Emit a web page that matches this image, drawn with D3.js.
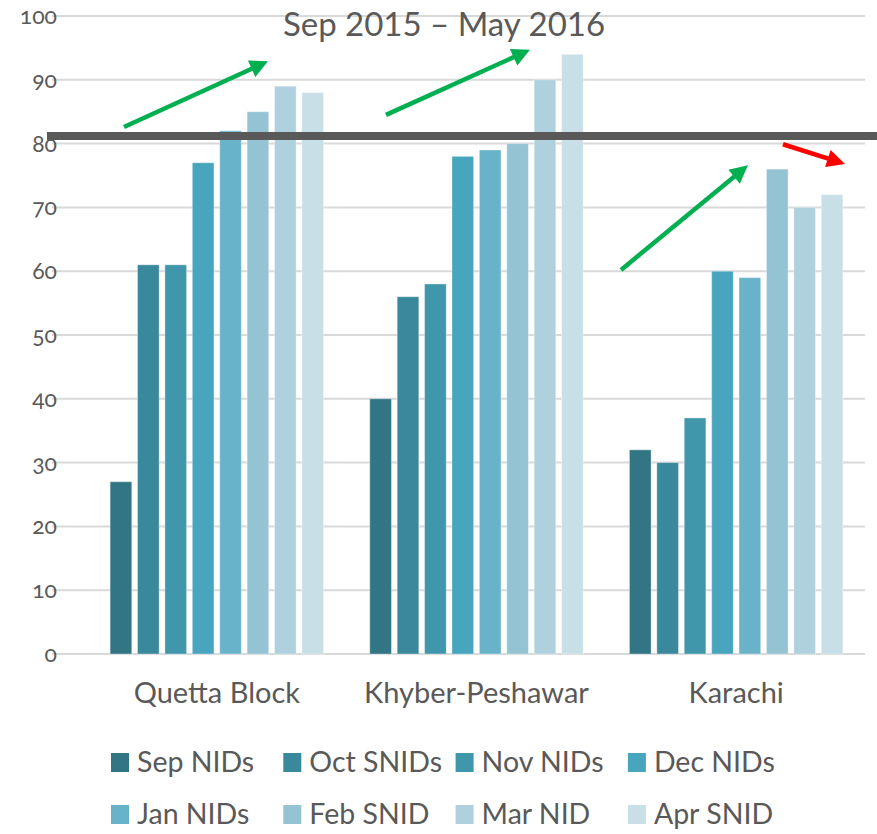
<!DOCTYPE html>
<html>
<head>
<meta charset="utf-8">
<script src="https://cdn.jsdelivr.net/npm/d3@7"></script>
<style>
  body { margin: 0; background: #fff; }
  svg text { font-family: Lato, "Liberation Sans", sans-serif; fill: #595959; }
  .tick-label { font-variant-numeric: oldstyle-nums; }
</style>
</head>
<body>
<svg id="chart" width="877" height="834"></svg>
<script>
var groups = ["Quetta Block", "Khyber-Peshawar", "Karachi"];
var series = ["Sep NIDs", "Oct SNIDs", "Nov NIDs", "Dec NIDs", "Jan NIDs", "Feb SNID", "Mar NID", "Apr SNID"];
var colors = ["#327584", "#3a889b", "#4096ab", "#48a5be", "#69b3ca", "#94c3d4", "#afd1de", "#c9dfe7"];
var quetta = [27, 61, 61, 77, 82, 85, 89, 88];
var khyber = [40, 56, 58, 78, 79, 80, 90, 94];
var karachi = [32, 30, 37, 60, 59, 76, 70, 72];
var yTicks = [0, 10, 20, 30, 40, 50, 60, 70, 80, 90, 100];
var targetLine = 81.2;
var title = "Sep 2015 \u2013 May 2016";
// annotation arrows: [x0, value0, x1, value1, colour]
var arrows = [
  [124, 82.6, 268, 92.9, "#00b050"],
  [386, 84.5, 530, 94.7, "#00b050"],
  [621, 60.2, 748, 76.6, "#00b050"],
  [783, 79.9, 845, 76.8, "#ff0000"]
];

var values = [quetta, khyber, karachi];

var svg = d3.select("#chart");

var y = d3.scaleLinear().domain([0, 100]).range([654, 16]);

var x0 = d3.scaleBand()
    .domain(groups)
    .range([87, 866])
    .paddingInner(0.178)
    .paddingOuter(0.089);

var x1 = d3.scaleBand()
    .domain(series)
    .range([0, x0.bandwidth()])
    .paddingInner(0.21)
    .paddingOuter(0);

// gridlines
svg.append("g")
    .selectAll("line")
    .data(yTicks)
    .enter().append("line")
    .attr("x1", 52)
    .attr("x2", 865)
    .attr("y1", function(d) { return y(d); })
    .attr("y2", function(d) { return y(d); })
    .attr("stroke", "#d9d9d9")
    .attr("stroke-width", 2);

svg.append("g")
    .selectAll("text")
    .data(yTicks)
    .enter().append("text")
    .attr("class", "tick-label")
    .attr("x", 57)
    .attr("y", function(d) { return y(d); })
    .attr("dy", "0.35em")
    .attr("text-anchor", "end")
    .attr("font-size", 23)
    .text(function(d) { return d; });

// bars
var group = svg.append("g")
    .selectAll("g")
    .data(groups)
    .enter().append("g")
    .attr("transform", function(d) { return "translate(" + x0(d) + ",0)"; });

group.selectAll("rect")
    .data(function(d, i) {
        return values[i].map(function(v, j) { return { key: series[j], value: v, color: colors[j] }; });
    })
    .enter().append("rect")
    .attr("x", function(d) { return x1(d.key); })
    .attr("y", function(d) { return y(d.value); })
    .attr("width", x1.bandwidth())
    .attr("height", function(d) { return y(0) - y(d.value); })
    .attr("fill", function(d) { return d.color; })
    .attr("stroke", "#ffffff")
    .attr("stroke-opacity", 0.35)
    .attr("stroke-width", 1);

// category labels
svg.append("g")
    .selectAll("text")
    .data(groups)
    .enter().append("text")
    .attr("x", function(d) { return x0(d) + x0.bandwidth() / 2; })
    .attr("y", 703)
    .attr("text-anchor", "middle")
    .attr("font-size", 29)
    .text(function(d) { return d; });

// target line
svg.append("line")
    .attr("x1", 47)
    .attr("x2", 877)
    .attr("y1", y(targetLine))
    .attr("y2", y(targetLine))
    .attr("stroke", "#595959")
    .attr("stroke-width", 8);

// title
svg.append("text")
    .attr("x", 444)
    .attr("y", 36)
    .attr("text-anchor", "middle")
    .attr("font-size", 33)
    .text(title);

// arrows
arrows.forEach(function(a) {
    var xa = a[0], ya = y(a[1]), xb = a[2], yb = y(a[3]);
    var dx = xb - xa, dy = yb - ya, len = Math.sqrt(dx * dx + dy * dy);
    var ux = dx / len, uy = dy / len;
    var headLen = 18, headW = 9;
    var bx = xb - ux * headLen, by = yb - uy * headLen;
    svg.append("line")
        .attr("x1", xa).attr("y1", ya)
        .attr("x2", bx + ux * 2).attr("y2", by + uy * 2)
        .attr("stroke", a[4])
        .attr("stroke-width", 4.5);
    svg.append("path")
        .attr("d", "M" + xb + "," + yb +
            "L" + (bx - uy * headW) + "," + (by + ux * headW) +
            "L" + (bx + uy * headW) + "," + (by - ux * headW) + "Z")
        .attr("fill", a[4]);
});

// legend
var legend = svg.append("g")
    .selectAll("g")
    .data(series)
    .enter().append("g")
    .attr("transform", function(d, i) {
        return "translate(" + (111 + (i % 4) * 172.3) + "," + (i < 4 ? 753 : 805) + ")";
    });

legend.append("rect")
    .attr("width", 18)
    .attr("height", 19)
    .attr("fill", function(d, i) { return colors[i]; });

legend.append("text")
    .attr("x", 26)
    .attr("y", 19)
    .attr("font-size", 28.5)
    .text(function(d) { return d; });
</script>
</body>
</html>
